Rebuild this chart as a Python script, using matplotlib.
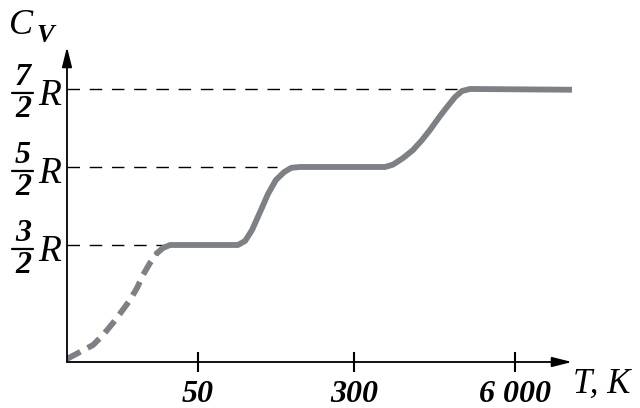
import numpy as np
import matplotlib
matplotlib.use("Agg")
import matplotlib.pyplot as plt
from matplotlib.transforms import blended_transform_factory, offset_copy

plt.rcParams['font.family'] = ['Liberation Serif', 'DejaVu Serif']

# schematic temperature axis (arbitrary units) and C_V in units of R
x_dash = [0.0, 0.082, 0.165, 0.228, 0.291, 0.348, 0.399, 0.443, 0.481, 0.525, 0.570]
cv_dash = [0.04, 0.128, 0.218, 0.346, 0.50, 0.654, 0.795, 0.949, 1.115, 1.269, 1.397]

x_solid = [0.570, 0.608, 0.652, 1.082, 1.127, 1.171, 1.222, 1.272, 1.322, 1.375, 1.420, 1.475,
           2.013, 2.063, 2.127, 2.190, 2.247, 2.297, 2.361, 2.405, 2.456, 2.500, 2.551, 3.196]
cv_solid = [1.397, 1.462, 1.50, 1.50, 1.551, 1.692, 1.923, 2.154, 2.333, 2.436, 2.49, 2.50,
            2.50, 2.53, 2.615, 2.718, 2.846, 2.974, 3.154, 3.269, 3.397, 3.474, 3.50, 3.49]

levels = [1.5, 2.5, 3.5]
level_num = ['3', '5', '7']
level_end = [0.62, 1.33, 2.47]

tick_pos = [0.829, 1.816, 2.835]
tick_labels = ['50', '300', '6 000']

curve_color = '#7d8084'

fig = plt.figure(figsize=(6.4, 4.08), dpi=100)
ax = fig.add_axes([67 / 640, 46 / 408, 505 / 640, 315 / 408])
ax.set_xlim(0, 3.196)
ax.set_ylim(0, 4.038)
for s in ax.spines.values():
    s.set_visible(False)

# dashed guide lines
for lv, xe in zip(levels, level_end):
    ax.plot([0, xe], [lv, lv], color='k', lw=1.0, dashes=(9, 7))

# the curve
ax.plot(x_dash, cv_dash, color=curve_color, lw=4.2, dashes=(2.6, 1.4), solid_capstyle='round')
ax.plot(x_solid, cv_solid, color=curve_color, lw=4.2, solid_capstyle='round', solid_joinstyle='round')

# axes with arrows
arr = dict(arrowstyle='-|>,head_length=1.2,head_width=0.3', lw=1.3, color='k',
           mutation_scale=10, shrinkA=0, shrinkB=0)
ax.annotate('', xy=(3.196, 0), xytext=(0, 0), arrowprops=arr, annotation_clip=False)
ax.annotate('', xy=(0, 4.038), xytext=(0, 0), arrowprops=arr, annotation_clip=False)

ax.set_yticks([])
ax.set_xticks(tick_pos)
ax.set_xticklabels(tick_labels)
ax.tick_params(axis='x', direction='inout', length=14, width=1.5, pad=6, colors='k')
for lab in ax.get_xticklabels():
    lab.set_fontstyle('italic')
    lab.set_fontweight('bold')
    lab.set_fontsize(23)

fig.text(573 / 640, 1 - 384 / 408, 'T, K', style='italic', fontsize=25,
         ha='left', va='center')

# C_V label
fig.text(9 / 640, 1 - 26 / 408, 'C', style='italic', fontsize=26,
         ha='left', va='center')
fig.text(36 / 640, 1 - 36 / 408, 'V', style='italic', fontweight='bold',
         fontsize=19, ha='left', va='center')

# fraction labels  n/2 R
tr = blended_transform_factory(fig.transFigure, ax.transData)
for lv, n in zip(levels, level_num):
    ax.text(23 / 640, lv, n, transform=offset_copy(tr, fig, y=11, units='dots'),
            style='italic', fontweight='bold', fontsize=23,
            ha='center', va='center')
    ax.text(23 / 640, lv, '2', transform=offset_copy(tr, fig, y=-21, units='dots'),
            style='italic', fontweight='bold', fontsize=23,
            ha='center', va='center')
    ax.text(50 / 640, lv, 'R', transform=offset_copy(tr, fig, y=-7, units='dots'),
            style='italic', fontsize=27, ha='center', va='center')
    bar = offset_copy(tr, fig, y=-4, units='dots')
    ax.annotate('', xy=(33 / 640, lv), xytext=(12 / 640, lv), xycoords=bar, textcoords=bar,
                arrowprops=dict(arrowstyle='-', lw=1.6, color='k', shrinkA=0, shrinkB=0),
                annotation_clip=False)

fig.savefig('out.png', dpi=100)
